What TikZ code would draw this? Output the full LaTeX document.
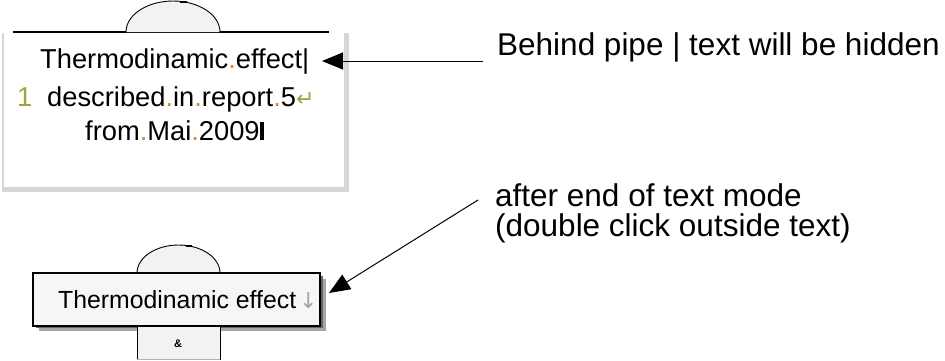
\documentclass[tikz,border=0pt]{standalone}
\usepackage{fontspec}
\setmainfont{Liberation Sans}
\newfontfamily\symfont{DejaVu Sans}
\usetikzlibrary{arrows.meta}
\definecolor{dotc}{HTML}{D08A3A}
\definecolor{numc}{HTML}{A3A33C}
\definecolor{domefill}{HTML}{F2F2F2}
\definecolor{frame}{HTML}{D6D6D6}
\definecolor{boxfill}{HTML}{F6F6F6}
\newcommand{\dt}{{\color{dotc}.}}
\tikzset{
  boxtxt/.style={font=\fontsize{27.3}{30}\selectfont, inner sep=0pt, anchor=base west},
  smalltxt/.style={font=\fontsize{24.8}{28}\selectfont, inner sep=0pt, anchor=base west},
  note/.style={font=\fontsize{31.5}{30}\selectfont, inner sep=0pt, anchor=base west, align=left},
  pointer/.style={line width=1pt, -{Triangle[length=21pt,width=17pt]}},
  dome/.style={draw=black, line width=0.9pt, fill=domefill}
}
\begin{document}
\begin{tikzpicture}[x=1pt,y=-1pt]
\useasboundingbox (0,0) rectangle (945,360);

% ---- upper symbol: text box in edit mode ----
\fill[frame] (2,33) rectangle (349,192);
\fill[white] (4,33) rectangle (344,187);
\draw[line width=1.2pt] (13,32) -- (329,32);
\draw[dome] (126,32) arc[start angle=180, end angle=360, x radius=47, y radius=31];
\draw[line width=2pt] (180,1.5) -- (187,1.5);

\node[boxtxt] (l1) at (40,68) {Thermodinamic\dt effect|};
\node[boxtxt, text=numc] (num) at (17,106) {1};
\node[boxtxt] (l2) at (47,106) {described\dt in\dt report\dt 5{\symfont\color{numc}\fontsize{22}{22}\selectfont ↵}};
\node[boxtxt] (l3) at (85,140) {from\dt Mai\dt 2009};
\fill (260,122) rectangle (263.5,140);

% ---- lower symbol: text box after editing ----
\draw[dome] (137,273) arc[start angle=180, end angle=360, x radius=41.5, y radius=28];
\draw[line width=2pt] (186,245.5) -- (192,245.5);
\fill[black!35] (39,279) rectangle (326,331);
\fill[black!60] (36,276) rectangle (323,328);
\draw[line width=1.6pt, fill=boxfill] (33,273) rectangle (320,326);
\node[smalltxt] (l4) at (58,308) {Thermodinamic effect};
\node[smalltxt, text=black!35] (down) at (299,308) {{\symfont\fontsize{22}{22}\selectfont ↓}};
\fill[domefill] (137,327) rectangle (220,359);
\draw[line width=1pt] (137,327) -- (137,360);
\draw[line width=1pt] (220,327) -- (220,360);
\draw[black!30] (137,359) -- (220,359);
\node[font=\fontsize{11}{11}\selectfont\bfseries, inner sep=0pt] (amp) at (178,344) {\&};

% ---- annotations ----
\node[note] (hid) at (497,55) {Behind pipe | text will be hidden};
\node[note] (aft) at (495,236) {after end of text mode\\(double click outside text)};
\coordinate (p1s) at (483,61);
\coordinate (p1e) at (322,61);
\coordinate (p2s) at (478,200);
\coordinate (p2e) at (329,293);
\draw[pointer] (p1s) -- (p1e);
\draw[pointer] (p2s) -- (p2e);
\end{tikzpicture}
\end{document}
